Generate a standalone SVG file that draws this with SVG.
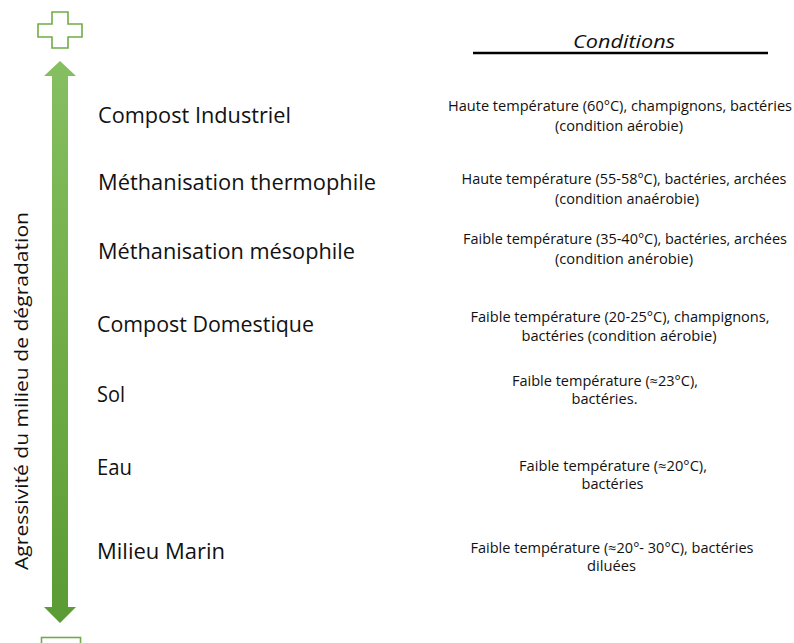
<svg xmlns="http://www.w3.org/2000/svg" width="794" height="643" viewBox="0 0 794 643">
  <defs>
    <linearGradient id="arrowGrad" x1="0" y1="0" x2="0" y2="1">
      <stop offset="0" stop-color="#86bf62"/>
      <stop offset="0.5" stop-color="#70ad47"/>
      <stop offset="1" stop-color="#5a9b36"/>
    </linearGradient>
    <style>
      .lbl { font-family: "Open Sans", "Liberation Sans", sans-serif; font-size: 21.5px; fill: #111; }
      .cond { font-family: "Open Sans", "Liberation Sans", sans-serif; font-size: 14px; fill: #111; text-anchor: middle; }
      .axis { font-family: "Open Sans", "Liberation Sans", sans-serif; font-size: 17.5px; fill: #111; }
      .hdr { font-family: "Open Sans", "Liberation Sans", sans-serif; font-size: 19px; font-style: italic; fill: #111; }
      .icon { fill: #ffffff; stroke: #70ad47; stroke-width: 1.6; }
    </style>
  </defs>
  <rect width="794" height="643" fill="#ffffff"/>

  <g id="plus-icon">
    <polygon class="icon" points="52,12 68,12 68,24 82,24 82,37 68,37 68,48 52,48 52,37 38,37 38,24 52,24"/>
  </g>
  <g id="minus-icon">
    <rect class="icon" x="41.5" y="637.5" width="39" height="13"/>
  </g>

  <g id="connectors">
    <polygon fill="url(#arrowGrad)" points="60,61 76,76 68,76 68,607 76,607 60,623 44,607 52,607 52,76 44,76"/>
  </g>

  <g id="axis-label">
    <text class="axis" transform="translate(28,570) rotate(-90)" textLength="358" lengthAdjust="spacingAndGlyphs">Agressivité du milieu de dégradation</text>
  </g>

  <g id="header">
    <text class="hdr" x="573" y="48" textLength="102" lengthAdjust="spacingAndGlyphs">Conditions</text>
    <line x1="473" y1="53" x2="768" y2="53" stroke="#000" stroke-width="2.5"/>
  </g>

  <g id="row-compost-industriel">
    <text class="lbl" x="98" y="123" textLength="193" lengthAdjust="spacingAndGlyphs">Compost Industriel</text>
    <text class="cond" x="620" y="111" textLength="344" lengthAdjust="spacingAndGlyphs">Haute température (60°C), champignons, bactéries</text>
    <text class="cond" x="619" y="131" textLength="128" lengthAdjust="spacingAndGlyphs">(condition aérobie)</text>
  </g>

  <g id="row-methanisation-thermophile">
    <text class="lbl" x="98" y="190" textLength="278" lengthAdjust="spacingAndGlyphs">Méthanisation thermophile</text>
    <text class="cond" x="624" y="184" textLength="325" lengthAdjust="spacingAndGlyphs">Haute température (55-58°C), bactéries, archées</text>
    <text class="cond" x="627" y="204" textLength="144" lengthAdjust="spacingAndGlyphs">(condition anaérobie)</text>
  </g>

  <g id="row-methanisation-mesophile">
    <text class="lbl" x="98" y="259" textLength="257" lengthAdjust="spacingAndGlyphs">Méthanisation mésophile</text>
    <text class="cond" x="625" y="244" textLength="324" lengthAdjust="spacingAndGlyphs">Faible température (35-40°C), bactéries, archées</text>
    <text class="cond" x="624" y="264" textLength="138" lengthAdjust="spacingAndGlyphs">(condition anérobie)</text>
  </g>

  <g id="row-compost-domestique">
    <text class="lbl" x="97" y="332" textLength="217" lengthAdjust="spacingAndGlyphs">Compost Domestique</text>
    <text class="cond" x="620" y="322" textLength="299" lengthAdjust="spacingAndGlyphs">Faible température (20-25°C), champignons,</text>
    <text class="cond" x="619" y="341" textLength="195" lengthAdjust="spacingAndGlyphs">bactéries (condition aérobie)</text>
  </g>

  <g id="row-sol">
    <text class="lbl" x="97" y="402" textLength="28" lengthAdjust="spacingAndGlyphs">Sol</text>
    <text class="cond" x="605" y="386" textLength="186" lengthAdjust="spacingAndGlyphs">Faible température (≈23°C),</text>
    <text class="cond" x="604.5" y="404" textLength="66" lengthAdjust="spacingAndGlyphs">bactéries.</text>
  </g>

  <g id="row-eau">
    <text class="lbl" x="97" y="475" textLength="35" lengthAdjust="spacingAndGlyphs">Eau</text>
    <text class="cond" x="613" y="471" textLength="188" lengthAdjust="spacingAndGlyphs">Faible température (≈20°C),</text>
    <text class="cond" x="612.5" y="489" textLength="62" lengthAdjust="spacingAndGlyphs">bactéries</text>
  </g>

  <g id="row-milieu-marin">
    <text class="lbl" x="97" y="559" textLength="128" lengthAdjust="spacingAndGlyphs">Milieu Marin</text>
    <text class="cond" x="612" y="553" textLength="283" lengthAdjust="spacingAndGlyphs">Faible température (≈20°- 30°C), bactéries</text>
    <text class="cond" x="611.5" y="571" textLength="49" lengthAdjust="spacingAndGlyphs">diluées</text>
  </g>
</svg>
